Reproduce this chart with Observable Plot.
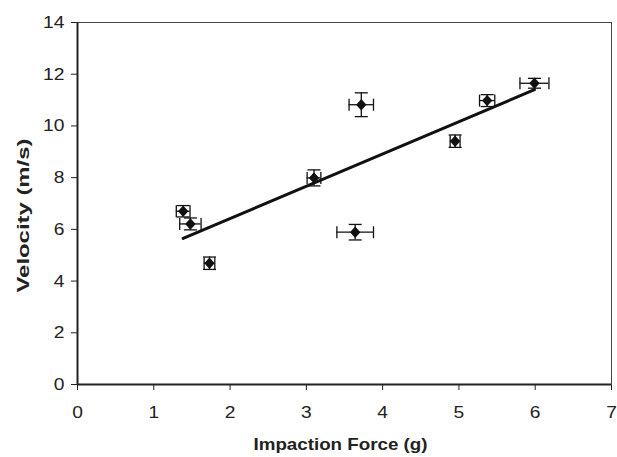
<!DOCTYPE html>
<html>
<head>
<meta charset="utf-8">
<script src="https://cdn.jsdelivr.net/npm/d3@7"></script>
<script src="https://cdn.jsdelivr.net/npm/@observablehq/plot@0.6"></script>
<style>
  html, body { margin: 0; padding: 0; background: #fff; }
</style>
</head>
<body>
<div id="chart"></div>
<script>
// Data
const force    = [1.385, 1.48, 1.73, 3.10, 3.64, 3.72, 4.95, 5.37, 5.99];
const velocity = [6.70, 6.21, 4.69, 7.99, 5.89, 10.82, 9.41, 10.98, 11.65];
const forceErr = [0.09, 0.14, 0.07, 0.09, 0.24, 0.16, 0.065, 0.10, 0.19];
const velErr   = [0.22, 0.23, 0.24, 0.31, 0.30, 0.46, 0.24, 0.23, 0.19];
const trendX   = [1.385, 5.99];
const trendY   = [5.65, 11.40];
const xTicks   = [0, 1, 2, 3, 4, 5, 6, 7];
const yTicks   = [0, 2, 4, 6, 8, 10, 12, 14];
const xLabel   = "Impaction Force (g)";
const yLabel   = "Velocity (m/s)";

const points = force.map((f, i) => ({x: f, y: velocity[i], ex: forceErr[i], ey: velErr[i]}));
const trend = trendX.map((x, i) => ({x, y: trendY[i]}));

const vCap = {draw(ctx) { ctx.moveTo(0, -6); ctx.lineTo(0, 6); }};
const hCap = {draw(ctx) { ctx.moveTo(-6.5, 0); ctx.lineTo(6.5, 0); }};
const diamond = {draw(ctx) { ctx.moveTo(0, -5.7); ctx.lineTo(5.2, 0); ctx.lineTo(0, 5.7); ctx.lineTo(-5.2, 0); ctx.closePath(); }};

const chart = Plot.plot({
  width: 617,
  height: 457,
  marginLeft: 77,
  marginRight: 6,
  marginTop: 22,
  marginBottom: 73,
  style: {fontFamily: "'Liberation Sans', Arial, sans-serif", color: "#222", background: "#fff"},
  x: {domain: [0, 7]},
  y: {domain: [0, 14]},
  marks: [
    Plot.axisX({ticks: xTicks, tickFormat: d3.format("d"), tickSize: 6, tickPadding: 15, fontSize: 17, label: null, stroke: "#222", fill: "#222"}),
    Plot.axisY({ticks: yTicks, tickFormat: d3.format("d"), tickSize: 6, tickPadding: 7, fontSize: 17, label: null, stroke: "#222", fill: "#222"}),
    Plot.frame({stroke: "#444", strokeWidth: 1}),
    Plot.ruleY([0], {stroke: "#222", strokeWidth: 2}),
    Plot.ruleX([0], {stroke: "#222", strokeWidth: 2}),
    // error bars
    Plot.ruleY(points, {y: "y", x1: d => d.x - d.ex, x2: d => d.x + d.ex, stroke: "#111", strokeWidth: 1.3}),
    Plot.ruleX(points, {x: "x", y1: d => d.y - d.ey, y2: d => d.y + d.ey, stroke: "#111", strokeWidth: 1.3}),
    Plot.dot(points, {x: d => d.x - d.ex, y: "y", symbol: vCap, stroke: "#111", strokeWidth: 1.3, fill: "none"}),
    Plot.dot(points, {x: d => d.x + d.ex, y: "y", symbol: vCap, stroke: "#111", strokeWidth: 1.3, fill: "none"}),
    Plot.dot(points, {x: "x", y: d => d.y - d.ey, symbol: hCap, stroke: "#111", strokeWidth: 1.3, fill: "none"}),
    Plot.dot(points, {x: "x", y: d => d.y + d.ey, symbol: hCap, stroke: "#111", strokeWidth: 1.3, fill: "none"}),
    // trend line
    Plot.line(trend, {x: "x", y: "y", stroke: "#111", strokeWidth: 3}),
    // markers
    Plot.dot(points, {x: "x", y: "y", symbol: diamond, fill: "#111", stroke: "none"}),
    // axis titles
    Plot.text([yLabel], {text: d => d, frameAnchor: "left", dx: -54, dy: 89, rotate: -90, textAnchor: "start", fontWeight: "bold", fontSize: 17, fill: "#222"}),
    Plot.text([xLabel], {text: d => d, frameAnchor: "bottom", dx: -4, dy: 65, fontWeight: "bold", fontSize: 17, fill: "#222"})
  ]
});
// stretch texts horizontally to the proportions seen in the reference
const tickLabels = new Set([...xTicks, ...yTicks].map(String));
chart.querySelectorAll("text").forEach(t => {
  const s = t.textContent;
  if (s === xLabel) { t.setAttribute("textLength", 174); t.setAttribute("lengthAdjust", "spacingAndGlyphs"); }
  else if (s === yLabel) { t.setAttribute("textLength", 154); t.setAttribute("lengthAdjust", "spacingAndGlyphs"); }
  else if (tickLabels.has(s)) { t.setAttribute("textLength", (s.length * 10.7).toFixed(1)); t.setAttribute("lengthAdjust", "spacingAndGlyphs"); }
});
document.getElementById("chart").appendChild(chart);
</script>
</body>
</html>
